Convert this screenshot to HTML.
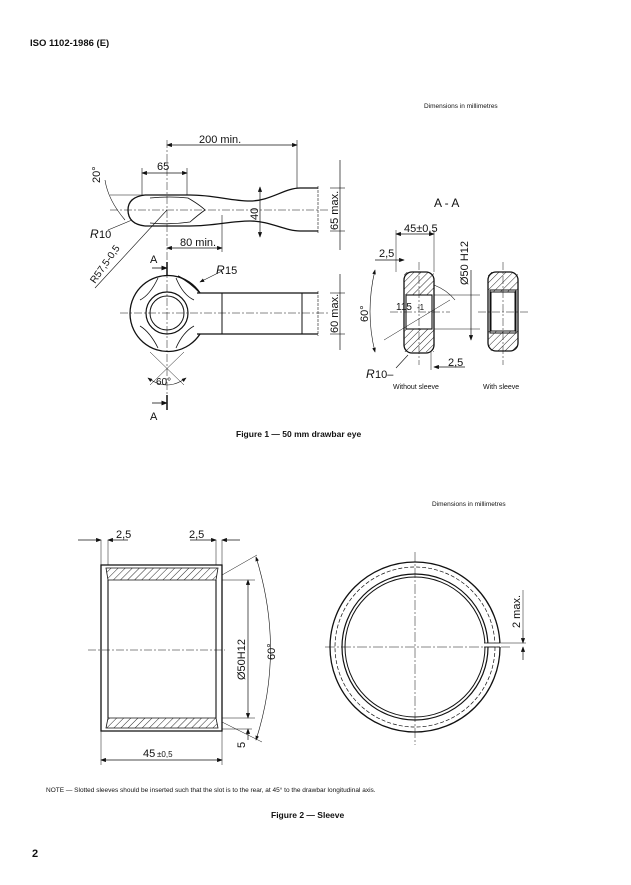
<!DOCTYPE html>
<html><head><meta charset="utf-8"><style>
html,body{margin:0;padding:0;background:#fff;}
svg{display:block;}
.t{font-family:"Liberation Sans",sans-serif;fill:#111;}
.d{font-family:"Liberation Sans",sans-serif;fill:#111;font-size:12px;}
</style></head><body>
<svg width="631" height="885" viewBox="0 0 631 885" xmlns="http://www.w3.org/2000/svg">
<defs>
<pattern id="h" patternUnits="userSpaceOnUse" width="5" height="5" patternTransform="rotate(45)">
<line x1="0" y1="0" x2="0" y2="5" stroke="#111" stroke-width="0.9"/></pattern>
<marker id="a" markerWidth="8" markerHeight="6" refX="7" refY="3" orient="auto-start-reverse"><path d="M0,0 L8,3 L0,6z" fill="#111"/></marker>
</defs>
<g class="t">
<text x="30" y="46" font-size="9.5" font-weight="bold">ISO 1102-1986 (E)</text>
<text x="424" y="108" font-size="6.5">Dimensions in millimetres</text>
<text x="236" y="437" font-size="8.5" font-weight="bold">Figure 1 — 50 mm drawbar eye</text>
<text x="432" y="506" font-size="6.5">Dimensions in millimetres</text>
<text x="46" y="792" font-size="6.5">NOTE — Slotted sleeves should be inserted such that the slot is to the rear, at 45° to the drawbar longitudinal axis.</text>
<text x="271" y="818" font-size="8.5" font-weight="bold">Figure 2 — Sleeve</text>
<text x="32" y="857" font-size="11" font-weight="bold">2</text>
</g>
<g fill="none" stroke="#111" stroke-width="1">
<!-- Fig1 top view -->
<path d="M145,195 L190,195 C215,195 230,201 250,201 C270,201 285,188 300,188 L318,188" stroke-width="1.3"/>
<path d="M145,226 L190,226 C215,226 230,221 250,221 C270,221 285,231 300,231 L318,231" stroke-width="1.3"/>
<path d="M145,195 Q128,197 128,210 Q128,224 145,226" stroke-width="1.3"/>
<path d="M150,198 Q170,196 188,198 Q200,205 205,210 Q198,215 190,222 Q170,225 150,223" stroke-width="0.8"/>
<line x1="318" y1="186" x2="318" y2="233" stroke-dasharray="3,1" stroke-width="0.6"/>
<line x1="167" y1="140" x2="167" y2="260" stroke-width="0.5" stroke-dasharray="8,2,2,2"/>
<line x1="110" y1="210" x2="330" y2="210" stroke-width="0.5" stroke-dasharray="8,2,2,2"/>
<line x1="167" y1="145" x2="297" y2="145" marker-start="url(#a)" marker-end="url(#a)" stroke-width="0.7"/>
<line x1="297" y1="140" x2="297" y2="188" stroke-width="0.6"/>
<line x1="142" y1="173" x2="187" y2="173" marker-start="url(#a)" marker-end="url(#a)" stroke-width="0.7"/>
<line x1="142" y1="168" x2="142" y2="195" stroke-width="0.6"/><line x1="187" y1="168" x2="187" y2="195" stroke-width="0.6"/>
<line x1="260" y1="187" x2="260" y2="237" marker-start="url(#a)" marker-end="url(#a)" stroke-width="0.7"/>
<line x1="340" y1="160" x2="340" y2="250" stroke-width="0.7"/>
<line x1="330" y1="188" x2="345" y2="188" stroke-width="0.6"/><line x1="330" y1="231" x2="345" y2="231" stroke-width="0.6"/>
<line x1="167" y1="248" x2="222" y2="248" marker-start="url(#a)" marker-end="url(#a)" stroke-width="0.7"/>
<line x1="222" y1="215" x2="222" y2="252" stroke-width="0.6"/>
<line x1="110" y1="195" x2="145" y2="195" stroke-width="0.6"/>
<path d="M105,180 Q108,200 125,220" stroke-width="0.6"/>
<line x1="95" y1="288" x2="167" y2="210" stroke-width="0.6"/>
<line x1="108" y1="230" x2="132" y2="220" stroke-width="0.6"/>
<line x1="152" y1="268" x2="167" y2="268" marker-end="url(#a)" stroke-width="0.8"/>
<line x1="167" y1="262" x2="167" y2="275" stroke-width="1.5"/>
<!-- lower eye -->
<path d="M200,293 A38,38 0 1 0 200,334" stroke-width="1.3"/>
<path d="M200,293 Q190,282 178,276" stroke-width="1.3"/>
<line x1="197" y1="293" x2="318" y2="293" stroke-width="1.3"/>
<line x1="197" y1="334" x2="318" y2="334" stroke-width="1.3"/>
<line x1="222" y1="293" x2="222" y2="334"/><line x1="302" y1="293" x2="302" y2="334"/>
<line x1="318" y1="291" x2="318" y2="336" stroke-dasharray="3,1" stroke-width="0.6"/>
<circle cx="167" cy="313" r="21" stroke-width="1.2"/><circle cx="167" cy="313" r="17"/>
<path d="M158,278 Q150,295 140,300 M176,278 Q183,295 194,300 M158,348 Q150,332 140,326 M176,348 Q183,332 194,326" stroke-width="0.8"/>
<line x1="120" y1="313" x2="330" y2="313" stroke-width="0.5" stroke-dasharray="8,2,2,2"/>
<line x1="167" y1="270" x2="167" y2="400" stroke-width="0.5" stroke-dasharray="8,2,2,2"/>
<line x1="150" y1="385" x2="184" y2="352" stroke-width="0.5"/><line x1="184" y1="385" x2="150" y2="352" stroke-width="0.5"/>
<path d="M148,378 Q167,392 186,378" stroke-width="0.6" marker-start="url(#a)" marker-end="url(#a)"/>
<line x1="152" y1="403" x2="167" y2="403" marker-end="url(#a)" stroke-width="0.8"/>
<line x1="167" y1="395" x2="167" y2="410" stroke-width="1.5"/>
<line x1="200" y1="282" x2="222" y2="271" stroke-width="0.6" marker-start="url(#a)"/>
<line x1="340" y1="274" x2="340" y2="350" stroke-width="0.7"/>
<line x1="330" y1="293" x2="345" y2="293" stroke-width="0.6"/><line x1="330" y1="334" x2="345" y2="334" stroke-width="0.6"/>
<!-- section A-A -->
<rect x="404" y="272" width="30" height="81" rx="8" stroke-width="1.3"/>
<rect x="404" y="272" width="30" height="23" fill="url(#h)" stroke="none"/>
<rect x="404" y="329" width="30" height="23" fill="url(#h)" stroke="none"/>
<rect x="406" y="295" width="26" height="34" fill="#fff" stroke-width="1.1"/>
<line x1="390" y1="312" x2="450" y2="312" stroke-width="0.5" stroke-dasharray="8,2,2,2"/>
<line x1="419" y1="262" x2="419" y2="365" stroke-width="0.5" stroke-dasharray="8,2,2,2"/>
<line x1="396" y1="234" x2="434" y2="234" marker-start="url(#a)" marker-end="url(#a)" stroke-width="0.7"/>
<line x1="396" y1="230" x2="396" y2="272" stroke-width="0.5"/><line x1="434" y1="230" x2="434" y2="272" stroke-width="0.5"/>
<line x1="375" y1="260" x2="404" y2="260" marker-end="url(#a)" stroke-width="0.7"/>
<line x1="434" y1="367" x2="465" y2="367" marker-start="url(#a)" stroke-width="0.7"/>
<line x1="431" y1="352" x2="431" y2="370" stroke-width="0.5"/>
<line x1="434" y1="295" x2="480" y2="295" stroke-width="0.5"/><line x1="434" y1="329" x2="480" y2="329" stroke-width="0.5"/>
<line x1="471" y1="270" x2="471" y2="340" stroke-width="0.7" marker-end="url(#a)"/>
<path d="M375,270 Q365,312 375,352" stroke-width="0.6" marker-start="url(#a)" marker-end="url(#a)"/>
<path d="M434,285 Q447,290 455,300" stroke-width="0.6"/>
<line x1="384" y1="340" x2="450" y2="300" stroke-width="0.5"/>
<line x1="396" y1="368" x2="408" y2="355" stroke-width="0.6"/>
<rect x="488" y="272" width="30" height="79" rx="8" stroke-width="1.3"/>
<rect x="488" y="272" width="30" height="20" fill="url(#h)" stroke="none"/>
<rect x="488" y="331" width="30" height="20" fill="url(#h)" stroke="none"/>
<rect x="490" y="290" width="26" height="43" stroke-width="1"/>
<rect x="491" y="292" width="24" height="39" fill="#fff" stroke-width="1"/>
<line x1="478" y1="312" x2="530" y2="312" stroke-width="0.5" stroke-dasharray="8,2,2,2"/>
<line x1="503" y1="262" x2="503" y2="365" stroke-width="0.5" stroke-dasharray="8,2,2,2"/>
<!-- Fig2 sleeve -->
<path d="M101,565 L222,565 L222,731 L101,731 Z" stroke-width="1.3"/>
<path d="M106,568 L218,568 L216,580 L108,580 Z" fill="url(#h)" stroke-width="0.8"/>
<path d="M106,728 L218,728 L216,718 L108,718 Z" fill="url(#h)" stroke-width="0.8"/>
<line x1="108" y1="580" x2="108" y2="718" stroke-width="1.1"/><line x1="216" y1="580" x2="216" y2="718" stroke-width="1.1"/>
<line x1="88" y1="650" x2="225" y2="650" stroke-width="0.5" stroke-dasharray="8,2,2,2"/>
<line x1="101" y1="540" x2="101" y2="565" stroke-width="0.5"/><line x1="108" y1="540" x2="108" y2="565" stroke-width="0.5"/>
<line x1="216" y1="540" x2="216" y2="565" stroke-width="0.5"/><line x1="222" y1="540" x2="222" y2="565" stroke-width="0.5"/>
<line x1="78" y1="540" x2="101" y2="540" marker-end="url(#a)" stroke-width="0.7"/>
<line x1="108" y1="540" x2="128" y2="540" marker-start="url(#a)" stroke-width="0.7"/>
<line x1="190" y1="540" x2="216" y2="540" marker-end="url(#a)" stroke-width="0.7"/>
<line x1="222" y1="540" x2="240" y2="540" marker-start="url(#a)" stroke-width="0.7"/>
<line x1="101" y1="760" x2="222" y2="760" marker-start="url(#a)" marker-end="url(#a)" stroke-width="0.7"/>
<line x1="101" y1="731" x2="101" y2="765" stroke-width="0.5"/><line x1="222" y1="731" x2="222" y2="765" stroke-width="0.5"/>
<line x1="222" y1="580" x2="255" y2="580" stroke-width="0.5"/><line x1="222" y1="718" x2="255" y2="718" stroke-width="0.5"/>
<line x1="248" y1="580" x2="248" y2="718" marker-start="url(#a)" marker-end="url(#a)" stroke-width="0.7"/>
<line x1="222" y1="729" x2="252" y2="729" stroke-width="0.5"/>
<line x1="248" y1="740" x2="248" y2="729" marker-end="url(#a)" stroke-width="0.7"/>
<path d="M256,557 Q285,650 256,740" stroke-width="0.6" marker-start="url(#a)" marker-end="url(#a)"/>
<line x1="222" y1="575" x2="257" y2="555" stroke-width="0.5"/><line x1="222" y1="722" x2="262" y2="742" stroke-width="0.5"/>
<!-- Fig2 ring -->
<circle cx="415" cy="647" r="85" stroke-width="1.3"/>
<circle cx="415" cy="647" r="80" stroke-dasharray="4,2" stroke-width="0.7"/>
<circle cx="415" cy="647" r="73" stroke-width="1.2"/>
<circle cx="415" cy="647" r="70" stroke-width="1"/>
<rect x="484" y="643" width="18" height="4" fill="#fff" stroke="none"/>
<line x1="484" y1="643" x2="500" y2="643" stroke-width="0.8"/><line x1="484" y1="647" x2="500" y2="647" stroke-width="0.8"/>
<line x1="325" y1="647" x2="510" y2="647" stroke-width="0.5" stroke-dasharray="10,2,2,2"/>
<line x1="415" y1="552" x2="415" y2="745" stroke-width="0.5" stroke-dasharray="10,2,2,2"/>
<line x1="500" y1="643" x2="526" y2="643" stroke-width="0.5"/>
<line x1="523" y1="630" x2="523" y2="643" marker-end="url(#a)" stroke-width="0.7"/>
<line x1="523" y1="660" x2="523" y2="647" marker-end="url(#a)" stroke-width="0.7"/>
<line x1="523" y1="590" x2="523" y2="630" stroke-width="0.5"/>
</g>
<g class="d">
<text x="199" y="143" font-size="11">200 min.</text>
<text x="157" y="170" font-size="11">65</text>
<text x="180" y="246" font-size="11">80 min.</text>
<text x="150" y="263" font-size="11">A</text>
<text x="150" y="420" font-size="11">A</text>
<text x="90" y="238" font-size="12" font-style="italic">R</text><text x="99" y="238" font-size="11">10</text>
<text x="216" y="274" font-size="12" font-style="italic">R</text><text x="225" y="274" font-size="11">15</text>
<text x="156" y="385" font-size="10">60°</text>
<text x="434" y="207" font-size="12">A - A</text>
<text x="404" y="232" font-size="11">45±0,5</text>
<text x="379" y="257" font-size="11">2,5</text>
<text x="448" y="366" font-size="11">2,5</text>
<text x="396" y="310" font-size="10">115</text><text x="417" y="310" font-size="8">-1</text>
<text x="366" y="378" font-size="12" font-style="italic">R</text><text x="375" y="378" font-size="11">10–</text>
<text x="393" y="389" font-size="7">Without sleeve</text>
<text x="483" y="389" font-size="7">With sleeve</text>
<text x="116" y="538" font-size="11">2,5</text>
<text x="189" y="538" font-size="11">2,5</text>
<text x="143" y="757" font-size="11">45</text><text x="157" y="757" font-size="8">±0,5</text>
<text transform="translate(100,183) rotate(-90)" font-size="11">20°</text>
<text transform="translate(258,220) rotate(-90)" font-size="11">40</text>
<text transform="translate(338,230) rotate(-90)" font-size="11">65 max.</text>
<text transform="translate(338,333) rotate(-90)" font-size="11">60 max.</text>
<text transform="translate(368,322) rotate(-90)" font-size="11">60°</text>
<text transform="translate(468,285) rotate(-90)" font-size="11">Ø50 H12</text>
<text transform="translate(95,284) rotate(-55)" font-size="10">R57,5-0,5</text>
<text transform="translate(245,680) rotate(-90)" font-size="11">Ø50H12</text>
<text transform="translate(275,660) rotate(-90)" font-size="11">60°</text>
<text transform="translate(245,748) rotate(-90)" font-size="11">5</text>
<text transform="translate(520,628) rotate(-90)" font-size="11">2 max.</text>
</g>
</svg>
</body></html>
